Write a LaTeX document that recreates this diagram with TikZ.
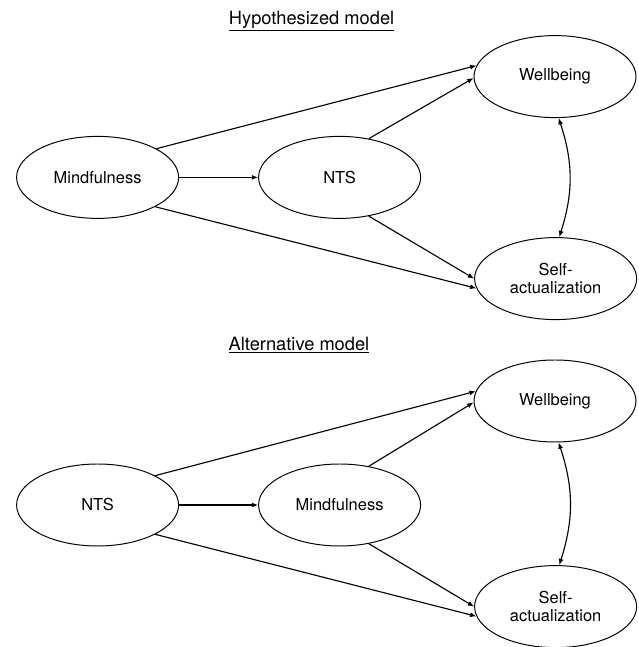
\documentclass[tikz,border=0pt]{standalone}
\usepackage{fontspec}
\setmainfont{TeX Gyre Heros}
\usetikzlibrary{arrows.meta, shapes.geometric}

\begin{document}
\begin{tikzpicture}[
    construct/.style={
        ellipse,
        draw=black,
        line width=0.7pt,
        minimum width=4.05cm,
        minimum height=2.05cm,
        inner sep=0pt,
        align=center,
        font=\fontsize{11.7}{13}\selectfont
    },
    path/.style={
        -{Latex[length=4.5pt,width=3.6pt]},
        line width=0.8pt
    },
    covar/.style={
        {Latex[length=4.5pt,width=3.6pt]}-{Latex[length=4.5pt,width=3.6pt]},
        line width=0.8pt
    },
    heading/.style={
        font=\fontsize{13}{15}\selectfont
    }
]
\useasboundingbox (0,0) rectangle (15.95,16.175);

% Hypothesized model
\node[heading] (title1) at (7.79,15.65) {\underline{Hypothesized model}};
\node[construct] (mind1) at (2.44,11.74) {Mindfulness};
\node[construct] (nts1) at (8.49,11.74) {NTS};
\node[construct] (well1) at (13.875,14.26) {Wellbeing};
\node[construct] (self1) at (13.89,9.21) {Self-\\actualization};

\draw[path] (mind1.east) -- (nts1.west);
\draw[path] (mind1.26) -- (well1.172);
\draw[path] (nts1.53) -- (well1.181);
\draw[path] (mind1.-27) -- (self1.187);
\draw[path] (nts1.-53) -- (self1.180);
\draw[covar] (well1.-85) to[bend left=18] (self1.85);

% Alternative model
\node[heading] (title2) at (7.475,7.55) {\underline{Alternative model}};
\node[construct] (nts2) at (2.44,3.55) {NTS};
\node[construct] (mind2) at (8.49,3.55) {Mindfulness};
\node[construct] (well2) at (13.875,6.15) {Wellbeing};
\node[construct] (self2) at (13.89,1.01) {Self-\\actualization};

\draw[path] (nts2.east) -- (mind2.west);
\draw[path] (nts2.27) -- (well2.173);
\draw[path] (mind2.53) -- (well2.181);
\draw[path] (nts2.-27) -- (self2.187);
\draw[path] (mind2.-53) -- (self2.180);
\draw[covar] (well2.-85) to[bend left=18] (self2.85);

\end{tikzpicture}
\end{document}
